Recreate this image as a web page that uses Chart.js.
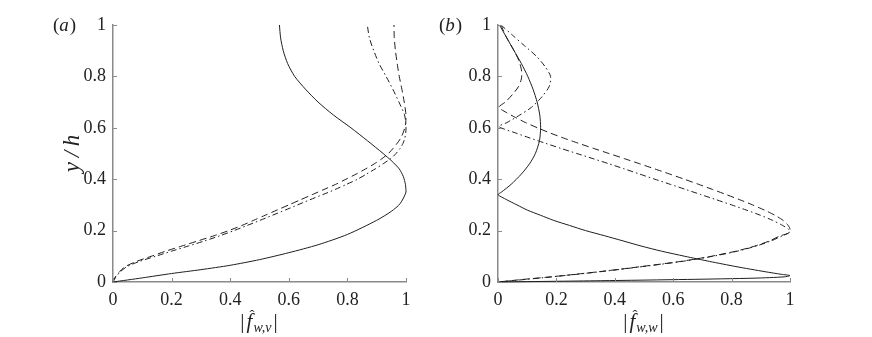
<!DOCTYPE html>
<html>
<head>
<meta charset="utf-8">
<script src="https://cdn.jsdelivr.net/npm/chart.js@4/dist/chart.umd.min.js"></script>
<style>
    body { margin: 0; background: #fff; }
    #wrap { position: relative; width: 872px; height: 337px; }
    canvas { position: absolute; top: 0; }
</style>
</head>
<body>
<div id="wrap">
    <canvas id="panelA" width="436" height="337" style="left:0"></canvas>
    <canvas id="panelB" width="436" height="337" style="left:436px"></canvas>
</div>
<script>
// Ticks shared by both axes of both panels
const tickValues = [0, 0.2, 0.4, 0.6, 0.8, 1];
const tickLabels = ['0', '0.2', '0.4', '0.6', '0.8', '1'];

// Panel (a): |f_{w,v}| against y/h
const aSolidY = [0, 0.016, 0.033, 0.048, 0.065, 0.087, 0.114, 0.145, 0.185, 0.24, 0.275, 0.305, 0.35, 0.38, 0.41, 0.44, 0.47, 0.5, 0.55, 0.6, 0.65, 0.7, 0.75, 0.8, 0.85, 0.9, 0.95, 1.0];
const aSolidX = [0, 0.1, 0.2, 0.3, 0.4, 0.5, 0.6, 0.7, 0.8, 0.9, 0.95, 0.98, 1.0, 0.998, 0.991, 0.977, 0.952, 0.922, 0.868, 0.812, 0.752, 0.70, 0.657, 0.62, 0.596, 0.581, 0.572, 0.568];

const aDashY = [0, 0.02, 0.04, 0.06, 0.08, 0.1, 0.12, 0.14, 0.16, 0.18, 0.2, 0.22, 0.24, 0.26, 0.28, 0.3, 0.32, 0.34, 0.36, 0.38, 0.4, 0.42, 0.44, 0.46, 0.48, 0.5, 0.52, 0.54, 0.56, 0.58, 0.6, 0.62, 0.64, 0.66, 0.7, 0.75, 0.8, 0.85, 0.9, 0.95, 1.0];
const aDashX = [0, 0.008, 0.022, 0.042, 0.08, 0.13, 0.18, 0.235, 0.29, 0.345, 0.395, 0.44, 0.48, 0.52, 0.56, 0.60, 0.64, 0.68, 0.72, 0.76, 0.795, 0.83, 0.862, 0.892, 0.918, 0.94, 0.956, 0.97, 0.982, 0.99, 0.996, 0.999, 1.0, 0.999, 0.994, 0.986, 0.977, 0.97, 0.964, 0.96, 0.959];

const aDotY = [0, 0.02, 0.04, 0.06, 0.08, 0.1, 0.12, 0.14, 0.16, 0.18, 0.2, 0.22, 0.24, 0.26, 0.28, 0.3, 0.32, 0.34, 0.36, 0.38, 0.4, 0.42, 0.44, 0.46, 0.48, 0.5, 0.52, 0.54, 0.56, 0.58, 0.6, 0.62, 0.65, 0.7, 0.75, 0.8, 0.85, 0.9, 0.95, 1.0];
const aDotX = [0, 0.01, 0.025, 0.048, 0.09, 0.145, 0.2, 0.257, 0.313, 0.365, 0.413, 0.458, 0.502, 0.545, 0.588, 0.63, 0.672, 0.716, 0.758, 0.797, 0.835, 0.865, 0.895, 0.922, 0.948, 0.966, 0.98, 0.99, 0.996, 0.999, 1.0, 0.999, 0.995, 0.976, 0.955, 0.932, 0.908, 0.89, 0.875, 0.868];

// Panel (b): |f_{w,w}| against y/h
const bSolidY = [1.0, 0.98, 0.95, 0.9, 0.85, 0.8, 0.75, 0.7, 0.65, 0.6, 0.55, 0.5, 0.46, 0.42, 0.38, 0.35, 0.34, 0.32, 0.3, 0.28, 0.26, 0.24, 0.22, 0.2, 0.18, 0.16, 0.14, 0.12, 0.1, 0.08, 0.06, 0.04, 0.03, 0.025, 0.02, 0.015, 0.01, 0.005, 0];
const bSolidX = [0.005, 0.015, 0.03, 0.055, 0.08, 0.102, 0.12, 0.134, 0.143, 0.146, 0.142, 0.128, 0.108, 0.08, 0.045, 0.012, 0.0, 0.03, 0.065, 0.10, 0.145, 0.19, 0.245, 0.30, 0.365, 0.428, 0.49, 0.56, 0.64, 0.725, 0.815, 0.915, 0.97, 1.0, 0.98, 0.88, 0.65, 0.35, 0];

const bDashY = [1.0, 0.95, 0.9, 0.86, 0.82, 0.79, 0.76, 0.73, 0.7, 0.68, 0.66, 0.64, 0.62, 0.6, 0.58, 0.56, 0.54, 0.52, 0.5, 0.48, 0.46, 0.44, 0.42, 0.4, 0.38, 0.36, 0.34, 0.32, 0.3, 0.28, 0.26, 0.24, 0.22, 0.205, 0.19, 0.18, 0.16, 0.14, 0.12, 0.1, 0.09, 0.08, 0.07, 0.06, 0.05, 0.04, 0.03, 0.02, 0.01, 0];
const bDashX = [0.01, 0.03, 0.055, 0.072, 0.081, 0.08, 0.07, 0.05, 0.025, 0.003, 0.028, 0.06, 0.095, 0.135, 0.178, 0.225, 0.275, 0.327, 0.38, 0.433, 0.485, 0.537, 0.588, 0.638, 0.687, 0.735, 0.782, 0.828, 0.872, 0.912, 0.948, 0.976, 0.994, 1.0, 0.995, 0.967, 0.93, 0.88, 0.815, 0.73, 0.68, 0.625, 0.56, 0.49, 0.42, 0.345, 0.265, 0.18, 0.085, 0];

const bDotY = [1.0, 0.96, 0.92, 0.88, 0.84, 0.8, 0.76, 0.72, 0.68, 0.65, 0.62, 0.605, 0.58, 0.56, 0.54, 0.52, 0.5, 0.48, 0.46, 0.44, 0.42, 0.4, 0.38, 0.36, 0.34, 0.32, 0.3, 0.28, 0.26, 0.24, 0.22, 0.205, 0.195, 0.18, 0.16, 0.14, 0.12, 0.1, 0.08, 0.06, 0.04, 0.02, 0];
const bDotX = [0.01, 0.05, 0.09, 0.13, 0.16, 0.18, 0.175, 0.15, 0.115, 0.075, 0.03, 0.003, 0.06, 0.11, 0.162, 0.215, 0.27, 0.325, 0.38, 0.433, 0.485, 0.537, 0.59, 0.643, 0.695, 0.748, 0.80, 0.85, 0.898, 0.94, 0.975, 0.995, 1.0, 0.975, 0.935, 0.885, 0.82, 0.735, 0.63, 0.495, 0.35, 0.185, 0];

// Styles
const lineColor = '#1e1e1e';
const axisColor = '#8a8a8a';
const textColor = '#222';
const serif = '"Liberation Serif", "Times New Roman", serif';
const dashed = [7, 4];
const dashDot = [6, 3, 1.5, 3];

function toPoints(xs, ys) {
    return xs.map((x, i) => ({ x: x, y: ys[i] }));
}

function makeDataset(xs, ys, dash) {
    return {
        data: toPoints(xs, ys),
        borderColor: lineColor,
        borderWidth: 1,
        borderDash: dash,
        pointRadius: 0,
        showLine: true,
        fill: false,
        tension: 0.25,
        clip: false
    };
}

// Ticks point inwards, drawn from the scale positions
const innerTicks = {
    id: 'innerTicks',
    afterDraw(chart) {
        const { ctx, chartArea, scales } = chart;
        ctx.save();
        ctx.strokeStyle = axisColor;
        ctx.lineWidth = 1;
        ctx.beginPath();
        tickValues.forEach(v => {
            const px = Math.round(scales.x.getPixelForValue(v)) + 0.5;
            ctx.moveTo(px, chartArea.bottom);
            ctx.lineTo(px, chartArea.bottom - 4);
            const py = Math.round(scales.y.getPixelForValue(v)) + 0.5;
            ctx.moveTo(chartArea.left, py);
            ctx.lineTo(chartArea.left + 4, py);
        });
        ctx.stroke();
        ctx.restore();
    }
};

// Panel tag and the |f^_{w,.}| axis label with its subscript
const panelLabels = {
    id: 'panelLabels',
    afterDraw(chart, args, opts) {
        const { ctx, chartArea } = chart;
        ctx.save();
        ctx.fillStyle = textColor;
        ctx.textBaseline = 'alphabetic';

        // (a) / (b)
        const up = '19px ' + serif;
        const it = 'italic 19px ' + serif;
        let x = opts.tagX;
        const ty = 31;
        ctx.font = up; ctx.fillText('(', x, ty); x += ctx.measureText('(').width;
        ctx.font = it; ctx.fillText(opts.tag, x, ty); x += ctx.measureText(opts.tag).width + 1;
        ctx.font = up; ctx.fillText(')', x, ty);

        // x label
        const bigUp = '21px ' + serif;
        const bigIt = 'italic 21px ' + serif;
        const subIt = 'italic 14px ' + serif;
        ctx.font = bigUp; const wBar = ctx.measureText('|').width;
        ctx.font = bigIt; const wF = ctx.measureText('f').width;
        ctx.font = subIt; const wSub = ctx.measureText(opts.sub).width;
        const total = wBar * 2 + wF + wSub + 6;
        const base = chartArea.bottom + 46;
        x = (chartArea.left + chartArea.right) / 2 - total / 2;
        ctx.font = bigUp; ctx.fillText('|', x, base); x += wBar + 2;
        ctx.font = bigIt; ctx.fillText('f', x, base);
        ctx.font = '15px ' + serif; ctx.fillText('\u02C6', x + wF * 0.5, base - 8);
        x += wF + 1;
        ctx.font = subIt; ctx.fillText(opts.sub, x, base + 4); x += wSub + 2;
        ctx.font = bigUp; ctx.fillText('|', x, base);
        ctx.restore();
    }
};

function axisOptions(fitHook, title) {
    return {
        type: 'linear',
        min: 0,
        max: 1,
        afterBuildTicks: scale => { scale.ticks = tickValues.map(v => ({ value: v })); },
        afterFit: fitHook,
        grid: { display: false, drawTicks: false },
        border: { display: true, color: axisColor, width: 1.5 },
        ticks: {
            autoSkip: false,
            maxRotation: 0,
            padding: 7,
            color: textColor,
            font: { family: serif, size: 18 },
            callback: v => tickLabels[tickValues.indexOf(v)]
        },
        title: title || { display: false }
    };
}

function createPanel(canvasId, datasets, yWidth, rightPad, tag, tagX, sub, yTitle) {
    const ctx = document.getElementById(canvasId).getContext('2d');
    return new Chart(ctx, {
        type: 'scatter',
        data: { datasets: datasets },
        options: {
            responsive: false,
            animation: false,
            events: [],
            layout: { padding: { top: 25, right: rightPad, left: 0, bottom: 0 } },
            plugins: {
                legend: { display: false },
                tooltip: { enabled: false },
                panelLabels: { tag: tag, tagX: tagX, sub: sub }
            },
            scales: {
                x: axisOptions(s => { s.height = 55; }),
                y: axisOptions(s => { s.width = yWidth; }, yTitle)
            }
        },
        plugins: [innerTicks, panelLabels]
    });
}

createPanel('panelA', [
    makeDataset(aSolidX, aSolidY, []),
    makeDataset(aDashX, aDashY, dashed),
    makeDataset(aDotX, aDotY, dashDot)
], 113, 30, 'a', 53, 'w,v', {
    display: true,
    text: 'y\u2009/\u2009h',
    color: textColor,
    font: { family: serif, size: 23, style: 'italic', weight: 'normal' },
    padding: { top: 59, bottom: 0 }
});

createPanel('panelB', [
    makeDataset(bSolidX, bSolidY, []),
    makeDataset(bDashX, bDashY, dashed),
    makeDataset(bDotX, bDotY, dashDot)
], 62, 82, 'b', 3, 'w,w');
</script>
</body>
</html>
